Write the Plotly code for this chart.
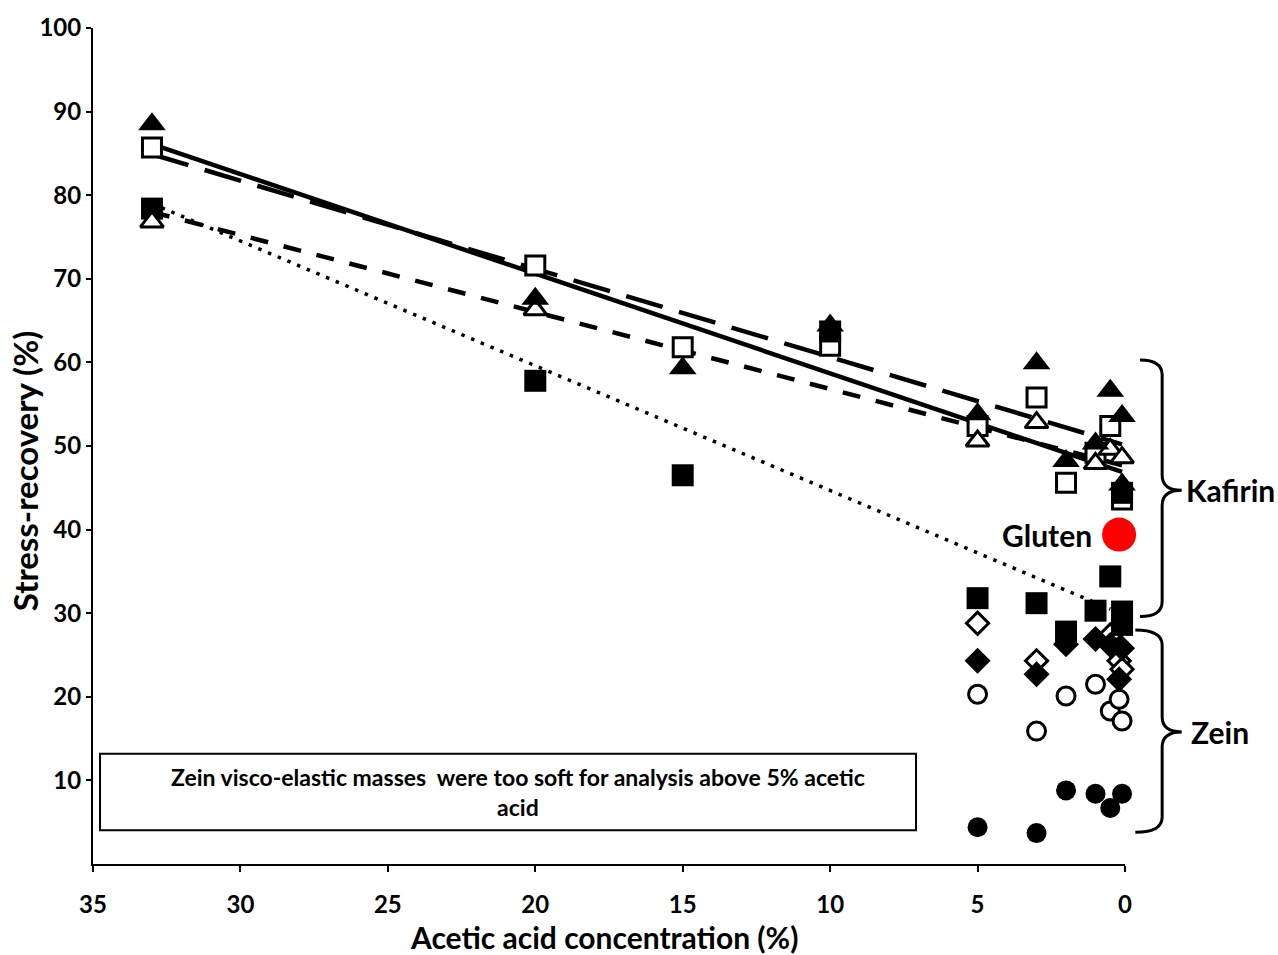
import plotly.graph_objects as go

# ---------------- data ----------------
# Kafirin series
kaf_filled_tri_x = [33, 20, 15, 10, 5, 3, 2, 1, 0.5, 0.1, 0.1]
kaf_filled_tri_y = [88.5, 67.6, 59.3, 64.4, 53.8, 59.9, 48.2, 50.3, 56.6, 53.6, 45.4]

kaf_open_sq_x = [33, 20, 15, 10, 5, 3, 2, 1, 0.5, 0.1]
kaf_open_sq_y = [85.7, 71.6, 61.8, 62.0, 52.4, 55.8, 45.6, 49.2, 52.4, 43.6]

kaf_open_tri_x = [33, 20, 5, 3, 1, 0.5, 0.1]
kaf_open_tri_y = [76.8, 66.3, 50.6, 52.8, 47.9, 49.6, 48.6]

kaf_filled_sq_x = [33, 20, 15, 10, 5, 3, 2, 1, 0.5, 0.1, 0.1, 0.1]
kaf_filled_sq_y = [78.4, 57.8, 46.5, 63.7, 31.8, 31.2, 27.8, 30.3, 34.4, 30.2, 28.6, 44.4]

# Zein series
zein_filled_dia_x = [5, 3, 2, 1, 0.5, 0.2, 0.1]
zein_filled_dia_y = [24.3, 22.7, 26.3, 26.9, 26.2, 22.1, 25.8]

zein_open_dia_x = [5, 3, 0.5, 0.2, 0.1]
zein_open_dia_y = [28.8, 24.3, 27.4, 24.3, 23.3]

zein_open_circ_x = [5, 3, 2, 1, 0.5, 0.2, 0.1]
zein_open_circ_y = [20.3, 15.9, 20.1, 21.5, 18.3, 19.7, 17.1]

zein_filled_circ_x = [5, 3, 2, 1, 0.5, 0.1]
zein_filled_circ_y = [4.4, 3.7, 8.8, 8.4, 6.7, 8.4]

# Gluten
gluten_x = [0.2]
gluten_y = [39.4]

# Trend lines (end points)
trend_solid_x = [33, 0.1]
trend_solid_y = [86.1, 46.9]
trend_longdash_x = [33, 0.1]
trend_longdash_y = [84.9, 50.2]
trend_shortdash_x = [33, 0.1]
trend_shortdash_y = [78.0, 47.7]
trend_dotted_x = [33, 0.5]
trend_dotted_y = [79.0, 30.5]

x_ticks = [35, 30, 25, 20, 15, 10, 5, 0]
y_ticks = [10, 20, 30, 40, 50, 60, 70, 80, 90, 100]

FONT = "Lato"
BOLD = "bold"
fig = go.Figure()

# trend lines
fig.add_trace(go.Scatter(x=trend_longdash_x, y=trend_longdash_y, mode="lines",
                         line=dict(color="black", width=4.5, dash="38px,17px"), cliponaxis=False))
fig.add_trace(go.Scatter(x=trend_shortdash_x, y=trend_shortdash_y, mode="lines",
                         line=dict(color="black", width=4.5, dash="18px,16px"), cliponaxis=False))
fig.add_trace(go.Scatter(x=trend_solid_x, y=trend_solid_y, mode="lines",
                         line=dict(color="black", width=4.5), cliponaxis=False))
fig.add_trace(go.Scatter(x=trend_dotted_x, y=trend_dotted_y, mode="lines",
                         line=dict(color="black", width=3.5, dash="3.5px,7px"), cliponaxis=False))

def pts(x, y, symbol, size, open_=False, color="black"):
    if open_:
        marker = dict(symbol=symbol, size=size, color="white",
                      line=dict(color="black", width=3))
    else:
        marker = dict(symbol=symbol, size=size, color=color, line=dict(width=0))
    fig.add_trace(go.Scatter(x=x, y=y, mode="markers", marker=marker, cliponaxis=False))

pts(zein_filled_circ_x, zein_filled_circ_y, "circle", 20)
pts(zein_open_circ_x, zein_open_circ_y, "circle", 18, open_=True)
pts(zein_open_dia_x, zein_open_dia_y, "diamond", 17, open_=True)
pts(zein_filled_dia_x, zein_filled_dia_y, "diamond", 20)
pts(kaf_open_sq_x, kaf_open_sq_y, "square", 19, open_=True)
pts(kaf_filled_sq_x, kaf_filled_sq_y, "square", 22)
pts(kaf_open_tri_x, kaf_open_tri_y, "triangle-up", 20, open_=True)
pts(kaf_filled_tri_x, kaf_filled_tri_y, "triangle-up", 24)
pts(gluten_x, gluten_y, "circle", 34, color="#ff0000")

# Gluten label
fig.add_annotation(x=2.65, y=39.4, xref="x", yref="y", text="Gluten", showarrow=False,
                   xanchor="center", yanchor="middle",
                   font=dict(family=FONT, size=30, color="black", weight=BOLD))

# Note box
fig.add_shape(type="rect", xref="paper", yref="paper", x0=0.0068, x1=0.7975, y0=0.0404, y1=0.132,
              line=dict(color="black", width=2), fillcolor="white", layer="below")
fig.add_annotation(xref="paper", yref="paper", x=0.412, y=0.086, showarrow=False,
                   xanchor="center", yanchor="middle",
                   text="Zein visco-elastic masses  were too soft for analysis above 5% acetic<br>acid",
                   font=dict(family=FONT, size=23, color="black", weight=BOLD), align="center")

# braces (paper coordinates)
def brace(ytop, ybot, ymid, x0=1.0145, xv=1.036, xt=1.055, r=0.018):
    path = (f"M {x0},{ytop} Q {xv},{ytop} {xv},{ytop - r} "
            f"L {xv},{ymid + r} Q {xv},{ymid} {xt},{ymid} "
            f"Q {xv},{ymid} {xv},{ymid - r} "
            f"L {xv},{ybot + r} Q {xv},{ybot} {x0},{ybot}")
    fig.add_shape(type="path", xref="paper", yref="paper", path=path,
                  line=dict(color="black", width=3))

brace(0.603, 0.296, 0.447)
brace(0.280, 0.038, 0.158, x0=1.010)
fig.add_annotation(xref="paper", yref="paper", x=1.057, y=0.447, xanchor="left", yanchor="middle",
                   showarrow=False,
                   text="Kafirin", font=dict(family=FONT, size=30, color="black", weight=BOLD))
fig.add_annotation(xref="paper", yref="paper", x=1.062, y=0.158, xanchor="left", yanchor="middle",
                   showarrow=False,
                   text="Zein", font=dict(family=FONT, size=30, color="black", weight=BOLD))

# axis titles as annotations
fig.add_annotation(xref="paper", yref="paper", x=0.495, y=-0.0868, xanchor="center", yanchor="middle",
                   showarrow=False, text="Acetic acid concentration (%)",
                   font=dict(family=FONT, size=30, color="black", weight=BOLD))
fig.add_annotation(xref="paper", yref="paper", x=-0.0659, y=0.471, xanchor="center", yanchor="middle",
                   showarrow=False, text="Stress-recovery (%)", textangle=-90,
                   font=dict(family=FONT, size=33, color="black", weight=BOLD))

fig.update_layout(
    width=1278, height=955,
    margin=dict(l=93, r=153, t=23, b=91),
    plot_bgcolor="white", paper_bgcolor="white",
    showlegend=False,
    font=dict(family=FONT, color="black"),
)
fig.update_xaxes(range=[35, 0], tickvals=x_ticks, ticktext=[str(v) for v in x_ticks],
                 showline=True, linecolor="black", linewidth=2, ticks="outside", ticklen=6,
                 tickwidth=2, tickcolor="black", showgrid=False, zeroline=False,
                 ticklabelstandoff=12,
                 tickfont=dict(family=FONT, size=24, color="black", weight=BOLD))
fig.update_yaxes(range=[0, 100], tickvals=y_ticks, ticktext=[str(v) for v in y_ticks],
                 showline=True, linecolor="black", linewidth=2, ticks="outside", ticklen=5,
                 tickwidth=2, tickcolor="black", showgrid=False, zeroline=False,
                 tickfont=dict(family=FONT, size=24, color="black", weight=BOLD))

fig.write_html("out.html", post_script="document.body.style.margin='0';",
               config={"displayModeBar": False})
